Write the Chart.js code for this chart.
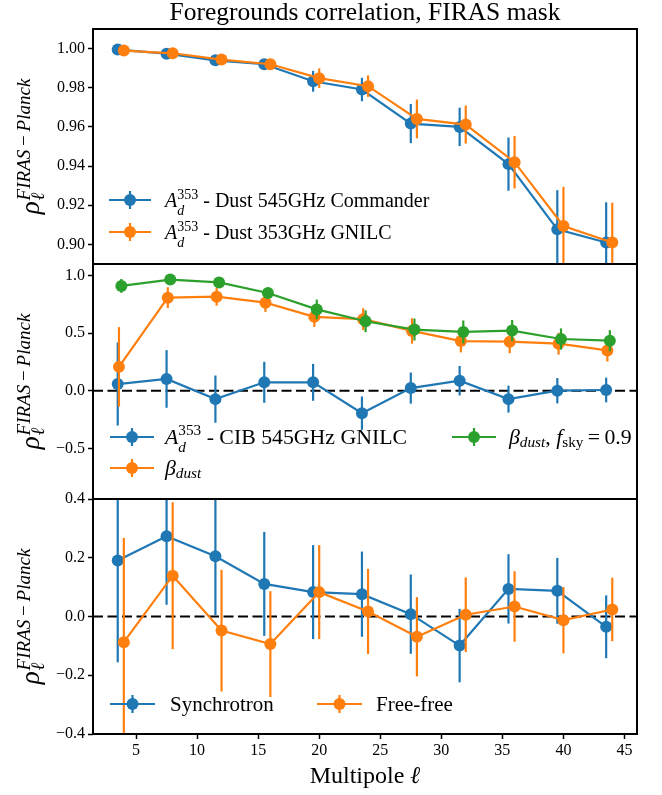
<!DOCTYPE html>
<html>
<head>
<meta charset="utf-8">
<script src="https://cdn.jsdelivr.net/npm/chart.js@4.4.0/dist/chart.umd.min.js"></script>
<style>
  html, body { margin: 0; padding: 0; background: #fff; }
  #wrap { width: 662px; height: 795px; position: relative; }
</style>
</head>
<body>
<div id="wrap"><canvas id="chart" width="662" height="795"></canvas></div>
<script>
// multipole bin centres (each series is slightly shifted in the original)
const ellA = [3.5, 7.5, 11.5, 15.5, 19.5, 23.5, 27.5, 31.5, 35.5, 39.5, 43.5];
const ellB = [4, 8, 12, 16, 20, 24, 28, 32, 36, 40, 44];
const ellBeta = [3.6, 7.6, 11.6, 15.6, 19.6, 23.6, 27.6, 31.6, 35.6, 39.6, 43.6];
const ellBetaSky = [3.8, 7.8, 11.8, 15.8, 19.8, 23.8, 27.8, 31.8, 35.8, 39.8, 43.8];

// top panel: dust amplitude correlations
const commander = [0.9995, 0.9974, 0.9940, 0.9920, 0.9833, 0.9791, 0.9617, 0.9600, 0.9410, 0.9077, 0.9010];
const commanderErr = [0.0005, 0.001, 0.0015, 0.0018, 0.0053, 0.006, 0.010, 0.0098, 0.0136, 0.020, 0.0205];
const dust353 = [0.9990, 0.9976, 0.9944, 0.9920, 0.9849, 0.9808, 0.9641, 0.9612, 0.9420, 0.9094, 0.9010];
const dust353Err = [0.0005, 0.001, 0.0015, 0.0018, 0.005, 0.0055, 0.0099, 0.0097, 0.0134, 0.020, 0.0203];

// middle panel: CIB and beta_dust
const cib = [0.058, 0.102, -0.073, 0.073, 0.073, -0.195, 0.023, 0.087, -0.073, 0.0, 0.006];
const cibErr = [0.36, 0.25, 0.205, 0.178, 0.16, 0.145, 0.135, 0.128, 0.117, 0.11, 0.107];
const betaDust = [0.207, 0.808, 0.816, 0.764, 0.641, 0.621, 0.519, 0.431, 0.426, 0.408, 0.350];
const betaDustErr = [0.345, 0.09, 0.078, 0.08, 0.087, 0.095, 0.11, 0.098, 0.1, 0.095, 0.096];
const betaSky = [0.91, 0.965, 0.94, 0.848, 0.706, 0.603, 0.531, 0.510, 0.522, 0.449, 0.434];
const betaSkyErr = [0.06, 0.03, 0.03, 0.04, 0.085, 0.095, 0.095, 0.1, 0.092, 0.092, 0.092];

// bottom panel: synchrotron and free-free
const synch = [0.191, 0.273, 0.205, 0.111, 0.083, 0.076, 0.008, -0.099, 0.094, 0.0875, -0.035];
const synchErr = [0.347, 0.233, 0.2, 0.177, 0.16, 0.145, 0.135, 0.125, 0.118, 0.112, 0.107];
const freeFree = [-0.0875, 0.139, -0.048, -0.094, 0.083, 0.017, -0.069, 0.006, 0.034, -0.0125, 0.024];
const freeFreeErr = [0.355, 0.25, 0.207, 0.18, 0.16, 0.145, 0.135, 0.127, 0.12, 0.113, 0.108];

// ticks
const xTicks = [5, 10, 15, 20, 25, 30, 35, 40, 45];
const yTicksTop = [0.90, 0.92, 0.94, 0.96, 0.98, 1.00];
const yTicksMid = [-0.5, 0.0, 0.5, 1.0];
const yTicksLow = [-0.4, -0.2, 0.0, 0.2, 0.4];

const BLUE = '#1f77b4', ORANGE = '#ff7f0e', GREEN = '#2ca02c';
const SERIF = '"Liberation Serif", "DejaVu Serif", serif';
const font = (size, italic) => (italic ? 'italic ' : '') + size + 'px ' + SERIF;
const minus = s => s.replace('-', '\u2212');

function series(xs, ys, errs, color, axis, order) {
  return {
    data: xs.map((x, i) => ({ x: x, y: ys[i] })),
    errors: errs,
    borderColor: color,
    backgroundColor: color,
    borderWidth: 2.2,
    pointRadius: 6,
    pointBorderWidth: 0,
    pointHoverRadius: 6,
    yAxisID: axis,
    order: order
  };
}

// draws a run of text pieces; sub/superscripts that share a slot use hold
function drawRich(ctx, segs, x, y, size) {
  let cx = x, held = 0;
  segs.forEach(s => {
    const sz = size * (s.sc || 1);
    ctx.font = font(sz, s.it);
    const w = ctx.measureText(s.t).width;
    ctx.fillText(s.t, cx, y + (s.dy || 0) * size);
    if (s.hold) held = Math.max(held, w);
    else { cx += Math.max(w, held); held = 0; }
  });
  return cx - x;
}

const Ad = [{ t: 'A', it: true }, { t: 'd', it: true, sc: 0.7, dy: 0.38, hold: true }, { t: '353', sc: 0.7, dy: -0.42 }];
const betaD = [{ t: '\u03b2', it: true }, { t: 'dust', it: true, sc: 0.7, dy: 0.16 }];

const legends = [
  { axis: 'yTop', size: 20, items: [
    { color: BLUE, x: 109, y: 200, w: 42, tx: 165, segs: Ad.concat([{ t: ' - Dust 545GHz Commander' }]) },
    { color: ORANGE, x: 109, y: 232, w: 42, tx: 165, segs: Ad.concat([{ t: ' - Dust 353GHz GNILC' }]) }
  ]},
  { axis: 'yMid', size: 21.8, items: [
    { color: BLUE, x: 110, y: 437, w: 44, tx: 165, segs: Ad.concat([{ t: ' - CIB 545GHz GNILC' }]) },
    { color: ORANGE, x: 110, y: 468, w: 44, tx: 165, segs: betaD },
    { color: GREEN, x: 452, y: 437, w: 44, tx: 509, segs: betaD.concat([{ t: ', ' }, { t: 'f', it: true }, { t: 'sky', sc: 0.7, dy: 0.16 }, { t: '\u2009=\u20090.9' }]) }
  ]},
  { axis: 'yLow', size: 21, items: [
    { color: BLUE, x: 110, y: 704, w: 45, tx: 170, segs: [{ t: 'Synchrotron' }] },
    { color: ORANGE, x: 317, y: 704, w: 45, tx: 376, segs: [{ t: 'Free-free' }] }
  ]}
];

const errorBars = {
  id: 'errorBars',
  beforeDatasetDraw(chart, args) {
    const ds = chart.data.datasets[args.index];
    const xs = args.meta.xScale, ys = args.meta.yScale;
    const ctx = chart.ctx;
    ctx.save();
    ctx.beginPath();
    ctx.rect(xs.left, ys.top, xs.width, ys.height);
    ctx.clip();
    ctx.strokeStyle = ds.borderColor;
    ctx.lineWidth = 2.2;
    ds.data.forEach((p, i) => {
      const px = xs.getPixelForValue(p.x);
      ctx.beginPath();
      ctx.moveTo(px, ys.getPixelForValue(p.y - ds.errors[i]));
      ctx.lineTo(px, ys.getPixelForValue(p.y + ds.errors[i]));
      ctx.stroke();
    });
    ctx.restore();
  }
};

const decorations = {
  id: 'decorations',
  beforeDatasetsDraw(chart) {
    const ctx = chart.ctx, xs = chart.scales.x;
    ctx.save();
    ctx.strokeStyle = '#000';
    ctx.lineWidth = 2;
    ctx.setLineDash([10, 4.5]);
    ['yMid', 'yLow'].forEach(id => {
      const y = chart.scales[id].getPixelForValue(0);
      ctx.beginPath();
      ctx.moveTo(xs.left, y);
      ctx.lineTo(xs.right, y);
      ctx.stroke();
    });
    ctx.restore();
  },
  afterDraw(chart) {
    const ctx = chart.ctx, xs = chart.scales.x;
    ctx.save();
    // panel frames
    ctx.strokeStyle = '#000';
    ctx.lineWidth = 2;
    ['yTop', 'yMid', 'yLow'].forEach(id => {
      const ys = chart.scales[id];
      ctx.strokeRect(xs.left, ys.top, xs.right - xs.left, ys.bottom - ys.top);
    });

    ctx.fillStyle = '#000';
    ctx.textBaseline = 'alphabetic';
    // title
    ctx.font = font(25.5, false);
    ctx.textAlign = 'center';
    ctx.fillText('Foregrounds correlation, FIRAS mask', (xs.left + xs.right) / 2, 20);
    // x label
    ctx.textAlign = 'left';
    ctx.font = font(24, false);
    const mw = ctx.measureText('Multipole ').width;
    ctx.font = font(24, true);
    const lw = ctx.measureText('\u2113').width;
    const lx = (xs.left + xs.right) / 2 - (mw + lw) / 2;
    ctx.font = font(24, false);
    ctx.fillText('Multipole ', lx, 783);
    ctx.font = font(24, true);
    ctx.fillText('\u2113', lx + mw, 783);

    // y labels, rotated
    const supSize = 19, rhoSize = 27;
    ['yTop', 'yMid', 'yLow'].forEach(id => {
      const ys = chart.scales[id];
      const cy = (ys.top + ys.bottom) / 2;
      ctx.save();
      ctx.translate(39, cy);
      ctx.rotate(-Math.PI / 2);
      ctx.font = font(rhoSize, true);
      const wr = ctx.measureText('\u03c1').width;
      const sup = ['FIRAS', '\u2009\u2212\u2009', 'Planck'];
      const ws = sup.map((t, k) => { ctx.font = font(supSize, k !== 1); return ctx.measureText(t).width; });
      const total = wr + 1 + ws[0] + ws[1] + ws[2];
      const u = -total / 2;
      ctx.font = font(rhoSize, true);
      ctx.fillText('\u03c1', u, 0);
      ctx.font = font(supSize, true);
      ctx.fillText('\u2113', u + wr + 1, 5);
      let su = u + wr + 1;
      sup.forEach((t, k) => {
        ctx.font = font(supSize, k !== 1);
        ctx.fillText(t, su, -9);
        su += ws[k];
      });
      ctx.restore();
    });

    // legends
    legends.forEach(lg => {
      lg.items.forEach(it => {
        ctx.strokeStyle = it.color;
        ctx.fillStyle = it.color;
        ctx.lineWidth = 2.2;
        const mid = it.x + it.w / 2;
        ctx.beginPath();
        ctx.moveTo(it.x, it.y);
        ctx.lineTo(it.x + it.w, it.y);
        ctx.moveTo(mid, it.y - 9);
        ctx.lineTo(mid, it.y + 9);
        ctx.stroke();
        ctx.beginPath();
        ctx.arc(mid, it.y, 6, 0, Math.PI * 2);
        ctx.fill();
        ctx.fillStyle = '#000';
        drawRich(ctx, it.segs, it.tx, it.y + 7, lg.size);
      });
    });
    ctx.restore();
  }
};

function yAxis(min, max, ticks, digits, weight) {
  return {
    type: 'linear',
    position: 'left',
    stack: 'panels',
    stackWeight: 1,
    weight: weight,
    min: min,
    max: max,
    afterBuildTicks: s => { s.ticks = ticks.map(v => ({ value: v })); },
    afterFit: s => { s.width = 93; },
    ticks: {
      color: '#000',
      font: { family: SERIF, size: 16 },
      padding: 3,
      callback: v => minus(Number(v).toFixed(digits))
    },
    grid: { drawOnChartArea: false, drawTicks: true, tickLength: 5, tickWidth: 1.5, tickColor: '#000' },
    border: { display: false }
  };
}

new Chart(document.getElementById('chart'), {
  type: 'line',
  data: {
    datasets: [
      series(ellA, commander, commanderErr, BLUE, 'yTop', 0),
      series(ellB, dust353, dust353Err, ORANGE, 'yTop', -1),
      series(ellA, cib, cibErr, BLUE, 'yMid', 0),
      series(ellBeta, betaDust, betaDustErr, ORANGE, 'yMid', -1),
      series(ellBetaSky, betaSky, betaSkyErr, GREEN, 'yMid', -2),
      series(ellA, synch, synchErr, BLUE, 'yLow', 0),
      series(ellB, freeFree, freeFreeErr, ORANGE, 'yLow', -1)
    ]
  },
  options: {
    responsive: false,
    animation: false,
    devicePixelRatio: 1,
    layout: { padding: { top: 29, right: 25, left: 0, bottom: 0 } },
    plugins: { legend: { display: false }, tooltip: { enabled: false }, title: { display: false } },
    scales: {
      x: {
        type: 'linear',
        position: 'bottom',
        min: 1.475,
        max: 46.025,
        afterBuildTicks: s => { s.ticks = xTicks.map(v => ({ value: v })); },
        afterFit: s => { s.height = 61; },
        ticks: { color: '#000', font: { family: SERIF, size: 16 }, padding: 2, maxRotation: 0 },
        grid: { drawOnChartArea: false, drawTicks: true, tickLength: 5, tickWidth: 1.5, tickColor: '#000' },
        border: { display: false }
      },
      yTop: yAxis(0.89, 1.01, yTicksTop, 2, 3),
      yMid: yAxis(-0.94, 1.10, yTicksMid, 1, 2),
      yLow: yAxis(-0.4, 0.4, yTicksLow, 1, 1)
    }
  },
  plugins: [errorBars, decorations]
});
</script>
</body>
</html>
